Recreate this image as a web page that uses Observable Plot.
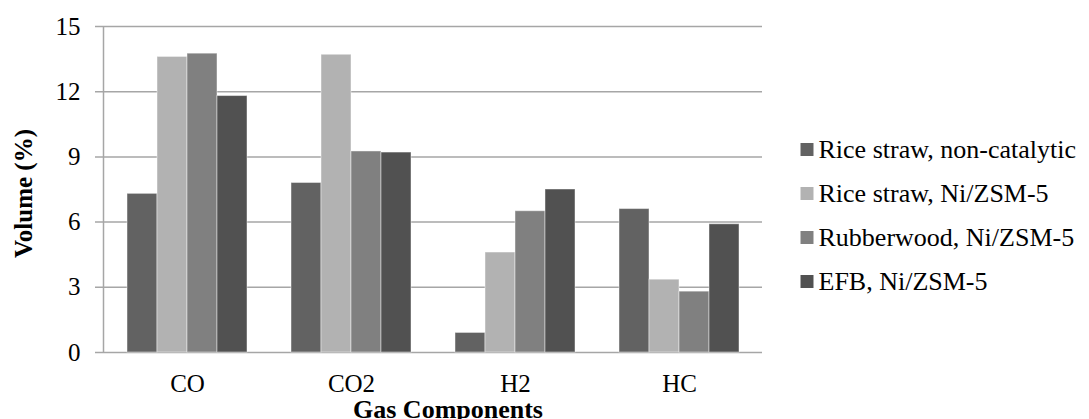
<!DOCTYPE html>
<html>
<head>
<meta charset="utf-8">
<script src="https://cdn.jsdelivr.net/npm/d3@7"></script>
<script src="https://cdn.jsdelivr.net/npm/@observablehq/plot@0.6"></script>
<style>
  html, body { margin: 0; padding: 0; background: #fff; }
  #wrap { position: relative; width: 1089px; height: 419px; overflow: hidden; }
  #wrap > .layer { position: absolute; left: 0; top: 0; }
  #wrap > .legend { position: absolute; left: 800px; top: 125px; }
</style>
</head>
<body>
<div id="wrap"></div>
<script>
const categories = ["CO", "CO2", "H2", "HC"];
const series = ["Rice straw, non-catalytic", "Rice straw, Ni/ZSM-5", "Rubberwood, Ni/ZSM-5", "EFB, Ni/ZSM-5"];
const riceNonCatalytic = [7.3, 7.8, 0.9, 6.6];
const riceNiZSM5 = [13.6, 13.7, 4.6, 3.35];
const rubberwoodNiZSM5 = [13.75, 9.25, 6.5, 2.8];
const efbNiZSM5 = [11.8, 9.2, 7.5, 5.9];
const yTicks = [0, 3, 6, 9, 12, 15];
const colors = ["#626262", "#b2b2b2", "#808080", "#515151"];

const seriesValues = [riceNonCatalytic, riceNiZSM5, rubberwoodNiZSM5, efbNiZSM5];
const data = [];
categories.forEach((c, ci) => {
  series.forEach((s, si) => data.push({cat: c, series: s, value: seriesValues[si][ci]}));
});

const W = 1089, H = 419;
const margins = {marginLeft: 103, marginRight: 327, marginTop: 26, marginBottom: 67};
const font = {fontFamily: "'Liberation Serif', serif", fontSize: "25px", color: "#000", background: "transparent"};
const gridColor = "#a6a6a6";

const back = Plot.plot({
  width: W, height: H, ...margins,
  style: font,
  x: {domain: [0, 1], axis: null},
  y: {domain: [0, 15], axis: null},
  marks: [
    Plot.ruleY(yTicks, {stroke: gridColor, strokeWidth: 1.5, insetLeft: -8}),
    Plot.ruleX([0], {stroke: gridColor, strokeWidth: 1.5}),
    Plot.axisY(yTicks, {tickSize: 0, tickPadding: 23, fill: "#000", fontSize: 25}),
    Plot.text(["Volume (%)"], {frameAnchor: "left", textAnchor: "middle", lineAnchor: "middle", dx: -80, dy: 4, rotate: -90, fontWeight: "bold", fontSize: 25, fill: "#000"}),
    Plot.text(["Gas Components"], {frameAnchor: "bottom", textAnchor: "middle", lineAnchor: "middle", dx: 15, dy: 57, fontWeight: "bold", fontSize: 26, fill: "#000"})
  ]
});
back.classList.add("layer");

const front = Plot.plot({
  width: W, height: H, ...margins,
  style: font,
  fx: {domain: categories, paddingInner: 0.27, paddingOuter: 0.135, label: null, axis: "bottom", tickSize: 0, tickPadding: 22},
  x: {domain: series, axis: null, padding: 0},
  y: {domain: [0, 15], axis: null},
  color: {domain: series, range: colors},
  marks: [
    Plot.barY(data, {fx: "cat", x: "series", y: "value", fill: "series", stroke: "#ffffff", strokeOpacity: 0.45, strokeWidth: 1})
  ]
});
front.classList.add("layer");

const legend = Plot.plot({
  width: 289, height: 179,
  marginLeft: 0, marginRight: 0, marginTop: 0, marginBottom: 0,
  style: {fontFamily: "'Liberation Serif', serif", fontSize: "26px", color: "#000", background: "transparent"},
  y: {type: "point", domain: series, padding: 0.5, axis: null},
  color: {domain: series, range: colors},
  marks: [
    Plot.dot(series, {y: d => d, frameAnchor: "left", dx: 6.5, symbol: "square", r: 7.33, fill: d => d, stroke: null}),
    Plot.text(series, {y: d => d, frameAnchor: "left", dx: 18, textAnchor: "start", lineAnchor: "middle", fill: "#000", fontSize: 26})
  ]
});
legend.classList.add("legend");

const wrap = document.getElementById("wrap");
wrap.appendChild(back);
wrap.appendChild(front);
wrap.appendChild(legend);
</script>
</body>
</html>
